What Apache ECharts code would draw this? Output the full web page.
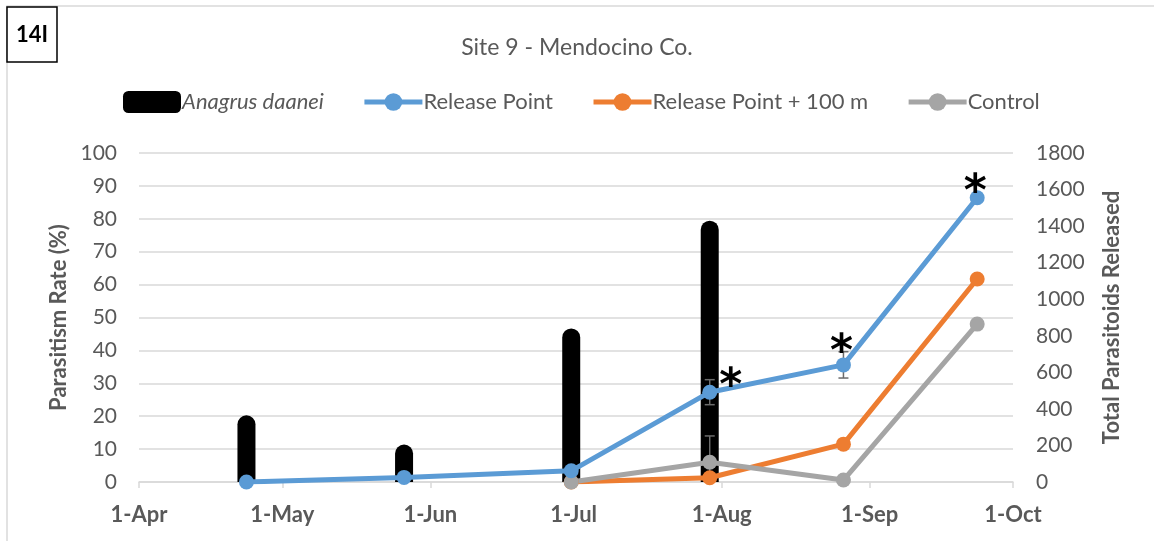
<!DOCTYPE html>
<html>
<head>
<meta charset="utf-8">
<script src="https://cdn.jsdelivr.net/npm/echarts@6/dist/echarts.min.js"></script>
<style>
    html, body { margin: 0; padding: 0; background: #fff; }
    #chart { width: 1154px; height: 541px; }
</style>
</head>
<body>
<div id="chart"></div>
<script>
// tick labels on the date axis
const tickDates = ['2019-04-01', '2019-05-01', '2019-06-01', '2019-07-01', '2019-08-01', '2019-09-01', '2019-10-01'];
const monthNames = ['Jan', 'Feb', 'Mar', 'Apr', 'May', 'Jun', 'Jul', 'Aug', 'Sep', 'Oct', 'Nov', 'Dec'];

// parasitoids released (right axis)
const releaseDates = ['2019-04-23 12:00', '2019-05-26 12:00', '2019-06-30 12:00', '2019-07-29 12:00'];
const released = [365, 205, 840, 1430];

// parasitism rate (%)
const rpDates = ['2019-04-23 12:00', '2019-05-26 12:00', '2019-06-30 12:00', '2019-07-29 12:00', '2019-08-26 12:00', '2019-09-23 12:00'];
const rpRate = [0, 1.4, 3.4, 27.3, 35.6, 86.4];
const rpErr = [0, 0, 0, 3.8, 4.0, 0.8];
const rpSig = [false, false, false, true, true, true];

const sampleDates = ['2019-06-30 12:00', '2019-07-29 12:00', '2019-08-26 12:00', '2019-09-23 12:00'];
const rp100Rate = [0, 1.3, 11.5, 61.7];
const controlRate = [0, 6.0, 0.6, 48.0];
const controlErr = [0, 8.0, 0, 0];

const blue = '#5b9bd5';
const orange = '#ed7d31';
const gray = '#a5a5a5';
const textGray = '#595959';
const font = 'Lato, "Open Sans", sans-serif';

function toTime(s) {
    let p = s.split(/[- :]/).map(Number);
    return Date.UTC(p[0], p[1] - 1, p[2], p[3] || 0, p[4] || 0);
}

function errData(dates, vals, errs) {
    return dates.map((d, i) => [toTime(d), vals[i] - errs[i], vals[i] + errs[i]]).filter((r, i) => errs[i] > 0);
}

function renderErr(params, api) {
    const x = api.value(0);
    const lo = api.coord([x, api.value(1)]);
    const hi = api.coord([x, api.value(2)]);
    const w = 5;
    const style = { stroke: '#6b6b6b', lineWidth: 1.5 };
    return {
        type: 'group',
        children: [
            { type: 'line', shape: { x1: lo[0], y1: lo[1], x2: hi[0], y2: hi[1] }, style: style },
            { type: 'line', shape: { x1: lo[0] - w, y1: lo[1], x2: lo[0] + w, y2: lo[1] }, style: style },
            { type: 'line', shape: { x1: hi[0] - w, y1: hi[1], x2: hi[0] + w, y2: hi[1] }, style: style }
        ]
    };
}

// significance stars on the release point line
const starOffsets = [[0, 0], [0, 0], [0, 0], [21, 30], [-2, 23], [-2, 30]];
const rpData = rpDates.map((d, i) => {
    if (!rpSig[i]) return [toTime(d), rpRate[i]];
    return {
        value: [toTime(d), rpRate[i]],
        label: {
            show: true,
            formatter: '*',
            position: 'top',
            offset: starOffsets[i],
            fontSize: 44,
            fontWeight: 'bold',
            color: '#000',
            fontFamily: 'DejaVu Sans'
        }
    };
});

const lineSeries = (name, color, dates, vals, data) => ({
    name: name,
    type: 'line',
    yAxisIndex: 0,
    data: data || dates.map((d, i) => [toTime(d), vals[i]]),
    symbol: 'circle',
    symbolSize: 15,
    lineStyle: { color: color, width: 5 },
    itemStyle: { color: color },
    z: 5
});

let myChart = echarts.init(document.getElementById('chart'));
myChart.setOption({
    animation: false,
    textStyle: { fontFamily: font },
    title: {
        text: 'Site 9 - Mendocino Co.',
        left: 'center',
        top: 31,
        textStyle: { color: textGray, fontSize: 23, fontWeight: 'normal', fontFamily: font }
    },
    graphic: [
        { type: 'rect', shape: { x: 7, y: 6, width: 1160, height: 560 }, style: { fill: 'none', stroke: '#d9d9d9', lineWidth: 1.5 } },
        { type: 'rect', shape: { x: 7, y: 7, width: 50, height: 55 }, style: { fill: '#fff', stroke: '#000', lineWidth: 1.5 } },
        { type: 'text', x: 32, y: 35, style: { text: '14I', fill: '#000', font: 'bold 22px ' + font, align: 'center', verticalAlign: 'middle' } }
    ],
    legend: {
        left: 118,
        top: 86,
        itemWidth: 58,
        itemHeight: 22,
        itemGap: 38,
        lineStyle: { width: 5 },
        textStyle: { color: textGray, fontSize: 22, fontFamily: font, padding: [0, 0, 0, -4] },
        data: [
            { name: 'Anagrus daanei', icon: 'roundRect', textStyle: { fontStyle: 'italic' } },
            { name: 'Release Point' },
            { name: 'Release Point + 100 m' },
            { name: 'Control' }
        ]
    },
    grid: { left: 139, right: 141, top: 153, bottom: 59 },
    xAxis: {
        type: 'value',
        min: toTime(tickDates[0]),
        max: toTime(tickDates[tickDates.length - 1]),
        axisLine: { show: true, onZero: false, lineStyle: { color: '#d9d9d9', width: 1.5 } },
        axisTick: { show: true, length: 6, lineStyle: { color: '#d9d9d9', width: 1.5 }, customValues: tickDates.map(toTime) },
        axisLabel: {
            customValues: tickDates.map(toTime),
            formatter: (v) => {
                let d = new Date(v);
                return d.getUTCDate() + '-' + monthNames[d.getUTCMonth()];
            },
            color: textGray,
            fontSize: 22,
            fontWeight: 'bold',
            fontFamily: font,
            margin: 22
        },
        splitLine: { show: false }
    },
    yAxis: [{
        type: 'value',
        min: 0,
        max: 100,
        interval: 10,
        name: 'Parasitism Rate (%)',
        nameLocation: 'middle',
        nameGap: 68,
        nameTextStyle: { color: textGray, fontSize: 22, fontWeight: 'bold', fontFamily: font },
        axisLine: { show: false },
        axisTick: { show: false },
        axisLabel: { color: textGray, fontSize: 21, margin: 22, fontFamily: font },
        splitLine: { lineStyle: { color: '#d9d9d9', width: 1.5 } }
    }, {
        type: 'value',
        min: 0,
        max: 1800,
        interval: 200,
        name: 'Total Parasitoids Released',
        nameLocation: 'middle',
        nameGap: 88,
        nameTextStyle: { color: textGray, fontSize: 22, fontWeight: 'bold', fontFamily: font },
        axisLine: { show: false },
        axisTick: { show: false },
        axisLabel: { color: textGray, fontSize: 21, margin: 23, fontFamily: font, formatter: (v) => String(v) },
        splitLine: { show: false }
    }],
    series: [{
        name: 'Anagrus daanei',
        type: 'bar',
        yAxisIndex: 1,
        data: releaseDates.map((d, i) => [toTime(d), released[i]]),
        barWidth: 18,
        itemStyle: { color: '#000', borderRadius: [9, 9, 0, 0] },
        z: 2
    }, {
        name: 'errRP',
        type: 'custom',
        yAxisIndex: 0,
        renderItem: renderErr,
        encode: { x: 0, y: [1, 2] },
        clip: true,
        data: errData(rpDates, rpRate, rpErr),
        z: 3
    }, {
        name: 'errControl',
        type: 'custom',
        yAxisIndex: 0,
        renderItem: renderErr,
        encode: { x: 0, y: [1, 2] },
        clip: true,
        data: errData(sampleDates, controlRate, controlErr),
        z: 3
    },
        lineSeries('Release Point + 100 m', orange, sampleDates, rp100Rate),
        lineSeries('Control', gray, sampleDates, controlRate),
        lineSeries('Release Point', blue, rpDates, rpRate, rpData)
    ]
});
</script>
</body>
</html>
